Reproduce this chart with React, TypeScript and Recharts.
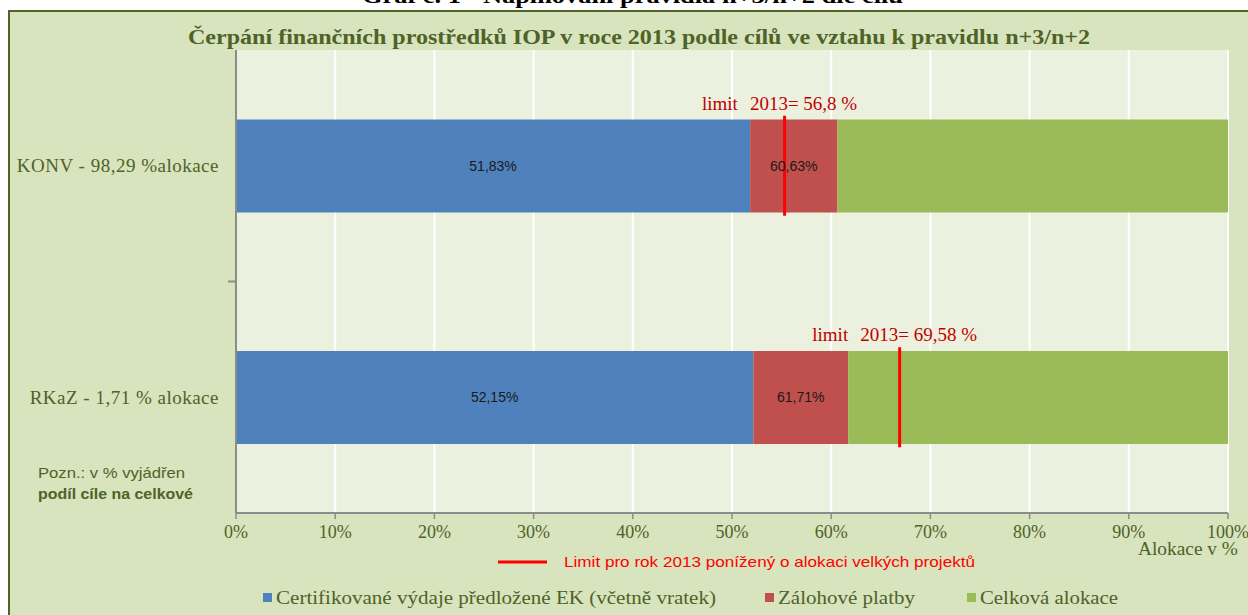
import React from 'react';
import { ComposedChart, Bar, Line, XAxis, YAxis, CartesianGrid, LabelList } from 'recharts';

const categories = ['KONV - 98,29 %alokace', 'RKaZ - 1,71 % alokace'];
const certified = [51.83, 52.15];
const advanceCumulative = [60.63, 61.71];
const totalAllocation = [100, 100];
const limitPosition = [55.3, 66.9];
const limitLabels = ['56,8 %', '69,58 %'];
const xTicks = [0, 10, 20, 30, 40, 50, 60, 70, 80, 90, 100];

const fmt = (v: number) => v.toFixed(2).replace('.', ',') + '%';

const data = categories.map((name, i) => ({
  name,
  cert: certified[i],
  adv: +(advanceCumulative[i] - certified[i]).toFixed(2),
  rest: +(totalAllocation[i] - advanceCumulative[i]).toFixed(2),
  certLabel: fmt(certified[i]),
  advLabel: fmt(advanceCumulative[i]),
  limit: limitPosition[i],
  limitLabel: limitLabels[i],
}));

const W = 1248;
const H = 615;
const M_TOP = 50;
const M_BOTTOM = 72;
const X_AXIS_H = 30;
const PLOT_H = H - M_TOP - M_BOTTOM - X_AXIS_H;
const BAND = PLOT_H / categories.length;

const OLIVE = '#4f6228';
const SERIF = '"Liberation Serif", "Times New Roman", serif';
const SANS = '"Liberation Sans", Arial, sans-serif';

const YTick = (props: any) => {
  const { x, y, payload, index } = props;
  return (
    <g>
      <text x={x} y={y} dy="0.35em" textAnchor="end" fill={OLIVE} fontSize={19} letterSpacing={0.5} fontFamily={SERIF}>
        {payload.value}
      </text>
      {index === 0 && (
        <line x1={x + 9} x2={x + 17} y1={y + BAND / 2} y2={y + BAND / 2} stroke="#8c8c8c" strokeWidth={2} />
      )}
    </g>
  );
};

const LimitMark = (props: any) => {
  const { cx, cy, index, payload } = props;
  if (cx == null || cy == null) return null;
  return (
    <g key={'lm' + index}>
      <line x1={cx} x2={cx} y1={cy - 50} y2={cy + 50} stroke="#ff0000" strokeWidth={3} />
      <text x={cx - 5} y={cy - 56} textAnchor="middle" fill="#c00000" fontSize={19} fontFamily={SERIF}>
        <tspan>limit</tspan>
        <tspan dx={12}>{'2013= ' + payload.limitLabel}</tspan>
      </text>
    </g>
  );
};

export default function App() {
  return (
    <div style={{ position: 'absolute', left: 0, top: 0, width: W, height: H, overflow: 'hidden', background: '#fff' }}>
      <div
        style={{
          position: 'absolute',
          left: 8,
          top: 10,
          width: W + 20,
          height: H + 20,
          background: '#d7e4bd',
          border: `2px solid ${OLIVE}`,
        }}
      />
      <div style={{ position: 'absolute', left: 0, top: 0 }}>
        <ComposedChart
          width={W}
          height={H}
          layout="vertical"
          data={data}
          margin={{ top: M_TOP, right: 20, bottom: M_BOTTOM, left: 10 }}
          barCategoryGap="30%"
        >
          <CartesianGrid horizontal={false} vertical stroke="#ffffff" strokeWidth={2} fill="#ebf1de" fillOpacity={1} />
          <XAxis
            type="number"
            domain={[0, 100]}
            ticks={xTicks}
            tickFormatter={(v: number) => v + '%'}
            height={X_AXIS_H}
            axisLine={{ stroke: '#8c8c8c', strokeWidth: 2 }}
            tickLine={{ stroke: '#8c8c8c', strokeWidth: 1.5 }}
            tickSize={6}
            tickMargin={6}
            tick={{ fill: OLIVE, fontSize: 18, fontFamily: SERIF }}
            interval={0}
          />
          <YAxis
            type="category"
            dataKey="name"
            width={226}
            axisLine={{ stroke: '#8c8c8c', strokeWidth: 2 }}
            tickLine={false}
            tickSize={8}
            tickMargin={9}
            tick={<YTick />}
          />
          <Bar dataKey="cert" stackId="a" fill="#4f81bd" isAnimationActive={false}>
            <LabelList dataKey="certLabel" position="center" fill="#1a1a1a" fontSize={14} fontFamily={SANS} />
          </Bar>
          <Bar dataKey="adv" stackId="a" fill="#c0504d" isAnimationActive={false}>
            <LabelList dataKey="advLabel" position="center" fill="#1a1a1a" fontSize={14} fontFamily={SANS} />
          </Bar>
          <Bar dataKey="rest" stackId="a" fill="#9bbb59" isAnimationActive={false} />
          <Line
            dataKey="limit"
            stroke="none"
            dot={<LimitMark />}
            activeDot={false}
            isAnimationActive={false}
            legendType="none"
          />
        </ComposedChart>
      </div>
      <svg width={W} height={H} style={{ position: 'absolute', left: 0, top: 0, pointerEvents: 'none' }}>
        <text x={362} y={3} fontSize={20} fontWeight="bold" fontFamily={SERIF} fill="#000" textLength={541} lengthAdjust="spacingAndGlyphs">
          Graf č. 1 - Naplňování pravidla n+3/n+2 dle cílů
        </text>
        <text x={188} y={44} fontSize={22} fontWeight="bold" fontFamily={SERIF} fill={OLIVE} textLength={902} lengthAdjust="spacingAndGlyphs">
          Čerpání finančních prostředků IOP  v roce 2013 podle cílů ve vztahu k pravidlu n+3/n+2
        </text>
        <text x={38} y={478} fontSize={15} fontFamily={SANS} fill={OLIVE} textLength={147} lengthAdjust="spacingAndGlyphs">
          Pozn.: v % vyjádřen
        </text>
        <text x={38} y={499} fontSize={15} fontWeight="bold" fontFamily={SANS} fill={OLIVE} textLength={155} lengthAdjust="spacingAndGlyphs">
          podíl cíle na celkové
        </text>
        <text x={1138} y={555} fontSize={19} fontFamily={SERIF} fill={OLIVE} textLength={100} lengthAdjust="spacingAndGlyphs">
          Alokace v %
        </text>
        <line x1={498} x2={547} y1={562} y2={562} stroke="#ff0000" strokeWidth={3} />
        <text x={564} y={567} fontSize={15} fontFamily={SANS} fill="#ff0000" textLength={411} lengthAdjust="spacingAndGlyphs">
          Limit pro rok 2013  ponížený o alokaci velkých projektů
        </text>
        <rect x={263} y={593} width={9} height={9} fill="#4f81bd" />
        <text x={276} y={604} fontSize={18} fontFamily={SERIF} fill={OLIVE} textLength={440} lengthAdjust="spacingAndGlyphs">
          Certifikované výdaje předložené EK (včetně vratek)
        </text>
        <rect x={765} y={593} width={9} height={9} fill="#c0504d" />
        <text x={778} y={604} fontSize={18} fontFamily={SERIF} fill={OLIVE} textLength={137} lengthAdjust="spacingAndGlyphs">
          Zálohové platby
        </text>
        <rect x={967} y={593} width={9} height={9} fill="#9bbb59" />
        <text x={980} y={604} fontSize={18} fontFamily={SERIF} fill={OLIVE} textLength={138} lengthAdjust="spacingAndGlyphs">
          Celková alokace
        </text>
      </svg>
    </div>
  );
}
